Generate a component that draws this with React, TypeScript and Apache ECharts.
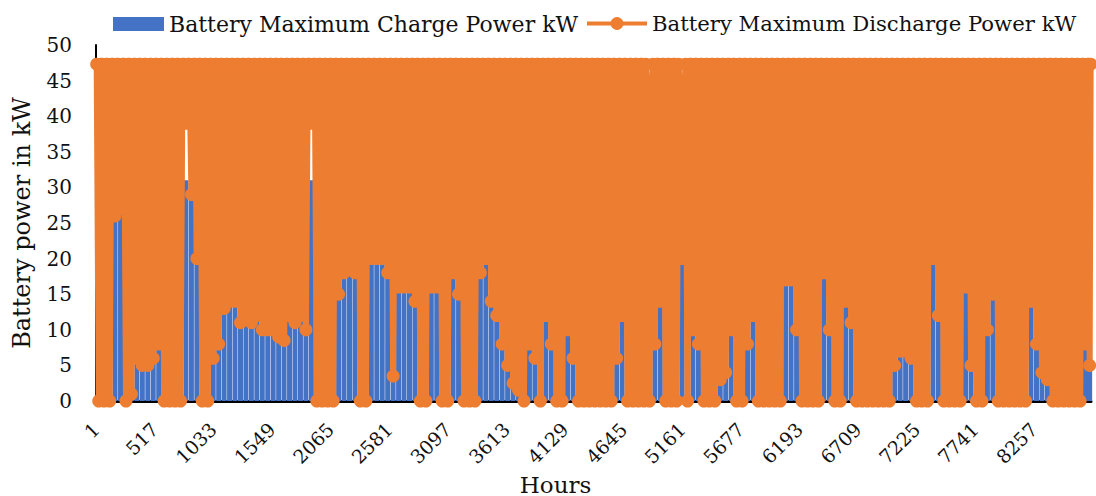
import React, { useEffect, useRef } from "react";
import * as echarts from "echarts";

// Hours are 0-based indices (label = index + 1); data summarised in 48-hour blocks.
const BLOCK_HOURS = 48;
const TOTAL_HOURS = 8760;
const HOUR_TICK_STEP = 516;

// Battery maximum charge power per 48-hour block (kW)
const chargeKW = [
  20, 22, 25, 27, 27, 20, 6, 7, 7, 7,
  7.5, 9, 8, 10, 20, 30, 31, 30, 26, 20,
  15, 12, 13, 15, 15.5, 15, 14, 14.5, 13, 13.5,
  12, 12, 11.5, 11, 11, 13, 13, 14, 13, 31,
  25, 28, 30, 26, 20, 20, 20, 19, 22, 24,
  22, 22, 21, 21, 20, 19, 19, 18, 17, 18,
  20, 18, 18, 20, 22, 22, 20, 18, 20, 22,
  21, 21, 15, 14, 12, 8, 5, 3, 5, 11,
  10, 12, 15, 14, 12, 14, 14, 12, 15, 18,
  20, 22, 20, 18, 16, 15, 17, 18, 22, 28,
  35, 38, 30, 24, 28, 32, 36, 40, 25, 16,
  11, 12, 10, 8, 5, 10, 18, 15, 14, 16,
  20, 18, 16, 18, 20, 18, 18, 18, 18, 16,
  18, 20, 22, 23, 20, 18, 20, 18, 12, 10,
  12, 15, 18, 16, 14, 10, 7, 8, 13, 8,
  12, 15, 20, 27, 22, 25, 22, 20, 22, 24,
  8, 12, 18, 25, 20, 18, 16, 18, 20, 18,
  17, 16, 12, 8, 6, 8, 10, 12, 10, 12,
  14, 11, 8,
];

// Lowest battery maximum discharge power reached within each 48-hour block (kW)
const dischargeLowKW = [
  0, 0, 0, 26, 27, 0, 1, 6, 5, 5,
  6, 8, 0, 0, 0, 0, 39, 29, 20, 0,
  0, 6, 8, 13, 14, 14, 11, 12, 11, 12,
  10, 10, 10, 9, 8.5, 12, 11, 12, 10, 39,
  0, 0, 0, 0, 15, 18, 19, 18, 0, 0,
  20, 20, 20, 18, 3.5, 16, 16, 16, 14, 0,
  0, 16, 16, 0, 0, 18, 15, 0, 0, 0,
  18, 20, 14, 12, 8, 5, 2.5, 1.5, 0, 8,
  6, 0, 12, 8, 0, 0, 10, 6, 0, 0,
  0, 0, 0, 0, 0, 6, 12, 0, 0, 0,
  0, 0, 8, 14, 0, 0, 0, 20, 0, 10,
  8, 0, 0, 0, 3, 4, 10, 0, 0, 8,
  12, 0, 0, 0, 0, 0, 17, 17, 10, 0,
  0, 0, 0, 18, 10, 0, 0, 14, 11, 0,
  0, 0, 0, 0, 0, 0, 5, 7, 7, 6,
  0, 0, 0, 20, 12, 0, 0, 0, 0, 16,
  5, 0, 0, 10, 15, 0, 0, 0, 0, 0,
  0, 14, 8, 4, 3, 0, 0, 0, 0, 0,
  0, 8, 5,
];

// Highest discharge power reached in a block (kW); a few blocks peak lower
const dischargePeakKW = 47.3;
const reducedPeaks: [number, number][] = [
  [101, 42],
  [107, 42],
];

const CHARGE_NAME = "Battery Maximum Charge Power kW";
const DISCHARGE_NAME = "Battery Maximum Discharge Power kW";
const FONT = "DejaVu Serif";

export default function App() {
  const ref = useRef<HTMLDivElement>(null);

  useEffect(() => {
    if (!ref.current) return;
    const chart = echarts.init(ref.current, undefined, { renderer: "svg" });

    const peakMap = new Map<number, number>(reducedPeaks);
    const chargeData: [number, number][] = [];
    const dischargeData: [number, number][] = [];
    chargeKW.forEach((c, i) => {
      const start = i * BLOCK_HOURS;
      const w = Math.min(BLOCK_HOURS, TOTAL_HOURS - start);
      chargeData.push([start + w / 2, c]);
      const peak = peakMap.get(i) ?? dischargePeakKW;
      const low = dischargeLowKW[i];
      dischargeData.push([start + w * 0.125, peak]);
      dischargeData.push([start + w * 0.5, low]);
      dischargeData.push([start + w * 0.875, peak]);
    });

    const textColor = "#111";

    chart.setOption({
      animation: false,
      backgroundColor: "#ffffff",
      textStyle: { fontFamily: FONT },
      grid: {
        left: 96,
        right: 5,
        top: 45,
        bottom: 95,
        containLabel: false,
        outerBoundsMode: "none",
      },
      legend: [
        {
          data: [CHARGE_NAME],
          left: 113,
          top: 13,
          padding: 0,
          itemWidth: 51,
          itemHeight: 14,
          icon: "rect",
          textStyle: { fontSize: 22, color: textColor, fontFamily: FONT },
        },
        {
          data: [DISCHARGE_NAME],
          left: 585,
          top: 13,
          padding: 0,
          itemWidth: 60,
          itemHeight: 16,
          lineStyle: { width: 4 },
          textStyle: { fontSize: 21.2, color: textColor, fontFamily: FONT },
        },
      ],
      xAxis: {
        type: "value",
        min: 0,
        max: TOTAL_HOURS,
        interval: HOUR_TICK_STEP,
        axisLine: { show: true, onZero: false, lineStyle: { color: "#000", width: 3 } },
        axisTick: { show: false },
        splitLine: { show: false },
        axisLabel: {
          rotate: 45,
          margin: 25,
          fontSize: 19,
          color: textColor,
          fontFamily: FONT,
          showMaxLabel: false,
          formatter: (v: number) => String(v + 1),
        },
        name: "Hours",
        nameLocation: "middle",
        nameGap: 61,
        nameTextStyle: { fontSize: 23, color: textColor, fontFamily: FONT, padding: [0, 76, 0, 0] },
      },
      yAxis: {
        type: "value",
        min: 0,
        max: 50,
        interval: 5,
        axisLine: { show: true, lineStyle: { color: "#000", width: 2 } },
        axisTick: { show: false },
        splitLine: { show: false },
        axisLabel: { fontSize: 20, margin: 24, color: textColor, fontFamily: FONT },
        name: "Battery power in kW",
        nameLocation: "middle",
        nameGap: 62,
        nameTextStyle: { fontSize: 24, color: textColor, fontFamily: FONT },
      },
      series: [
        {
          name: CHARGE_NAME,
          type: "bar",
          data: chargeData,
          barWidth: 5,
          itemStyle: { color: "#4472C4" },
          silent: true,
        },
        {
          name: DISCHARGE_NAME,
          type: "line",
          data: dischargeData,
          symbol: "circle",
          symbolSize: 13,
          showSymbol: true,
          lineStyle: { color: "#ED7D31", width: 6 },
          itemStyle: { color: "#ED7D31" },
          silent: true,
        },
      ],
    });

    return () => chart.dispose();
  }, []);

  return (
    <div
      ref={ref}
      style={{ position: "fixed", left: 0, top: 0, width: 1096, height: 496, background: "#fff" }}
    />
  );
}
